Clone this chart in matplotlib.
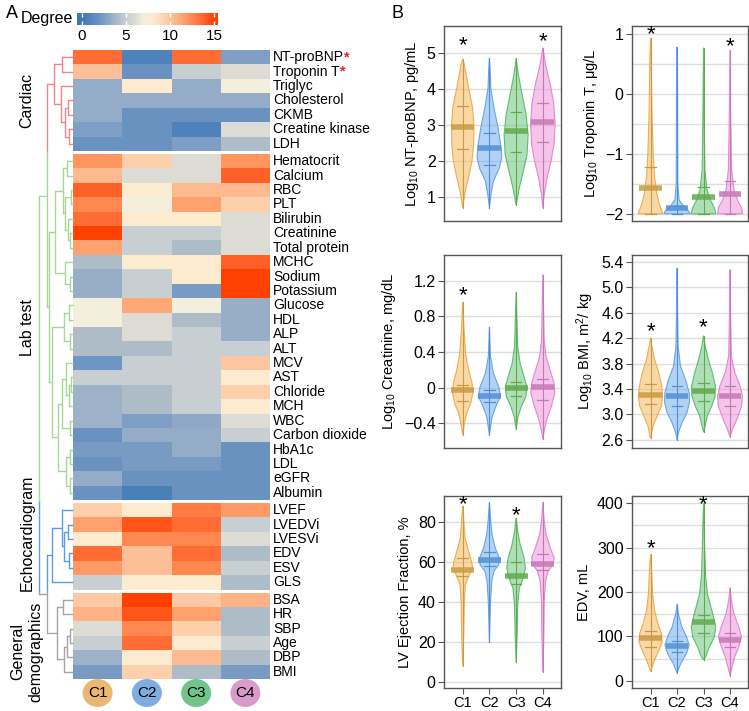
import numpy as np
import matplotlib
matplotlib.use('Agg')
import matplotlib.pyplot as plt
from matplotlib.colors import LinearSegmentedColormap
from matplotlib.patches import Ellipse, Polygon

plt.rcParams['font.family'] = ['Liberation Sans', 'DejaVu Sans']
plt.rcParams['mathtext.default'] = 'regular'

# ==========================================
# HEATMAP DATA (degree per cluster C1..C4)
# ==========================================
CLUSTERS = ['C1', 'C2', 'C3', 'C4']
GROUP_NAMES = ['Cardiac', 'Lab test', 'Echocardiogram', 'General\ndemographics']

cardiac_rows = ['NT-proBNP', 'Troponin T', 'Triglyc', 'Cholesterol', 'CKMB',
                'Creatine kinase', 'LDH']
cardiac_deg = [[13.5, 0.7, 13.5, 2.5],
               [10.3, 1.8, 5.0, 6.0],
               [3.2, 8.0, 3.2, 7.0],
               [3.2, 3.2, 3.2, 3.2],
               [3.2, 1.8, 1.8, 1.8],
               [2.5, 1.8, 0.7, 6.0],
               [1.8, 1.8, 2.5, 4.0]]

lab_rows = ['Hematocrit', 'Calcium', 'RBC', 'PLT', 'Bilirubin', 'Creatinine',
            'Total protein', 'MCHC', 'Sodium', 'Potassium', 'Glucose', 'HDL',
            'ALP', 'ALT', 'MCV', 'AST', 'Chloride', 'MCH', 'WBC',
            'Carbon dioxide', 'HbA1c', 'LDL', 'eGFR', 'Albumin']
lab_deg = [[12.0, 9.5, 6.0, 12.0],
           [10.5, 6.0, 6.0, 14.0],
           [14.0, 8.0, 10.5, 10.5],
           [12.5, 7.0, 11.5, 9.5],
           [13.5, 8.0, 8.0, 6.0],
           [15.0, 5.0, 5.0, 6.0],
           [11.5, 5.0, 4.0, 6.0],
           [4.0, 8.0, 8.0, 14.0],
           [3.3, 5.0, 8.0, 15.0],
           [3.3, 5.0, 2.3, 15.0],
           [7.0, 11.3, 7.0, 3.3],
           [7.0, 6.0, 4.0, 3.3],
           [4.0, 6.0, 5.0, 3.3],
           [4.0, 4.0, 5.0, 5.0],
           [2.0, 5.0, 5.0, 10.0],
           [5.0, 5.0, 5.0, 8.0],
           [3.5, 4.0, 5.0, 9.5],
           [3.5, 4.0, 5.0, 8.0],
           [3.5, 2.5, 3.0, 6.0],
           [1.8, 3.2, 3.2, 5.0],
           [2.3, 2.3, 3.2, 1.8],
           [1.8, 2.3, 2.3, 1.8],
           [3.2, 1.8, 1.8, 1.8],
           [1.8, 0.5, 1.8, 1.8]]

echo_rows = ['LVEF', 'LVEDVi', 'LVESVi', 'EDV', 'ESV', 'GLS']
echo_deg = [[9.5, 8.0, 13.0, 11.8],
            [11.5, 14.3, 13.5, 5.0],
            [8.0, 12.5, 12.5, 6.0],
            [13.5, 10.3, 13.5, 4.0],
            [11.8, 10.3, 12.5, 5.0],
            [5.0, 8.0, 8.0, 4.0]]

demo_rows = ['BSA', 'HR', 'SBP', 'Age', 'DBP', 'BMI']
demo_deg = [[9.8, 15.0, 9.8, 10.8],
            [10.8, 14.3, 11.5, 4.0],
            [6.0, 12.5, 9.5, 4.0],
            [5.0, 13.5, 8.0, 5.0],
            [3.5, 8.0, 10.5, 4.0],
            [2.3, 9.5, 4.0, 2.3]]

starred_rows = ['NT-proBNP', 'Troponin T']

# dendrogram: [merge height, left, right], leaves are global row indices
cardiac_tree = [19, [11, 0, 1], [12, 2, [8, [5, 3, 4], [3.7, 5, 6]]]]
lab_tree = [24,
            [18, [10.5, [6, 7, 8], [8, [2, 9, 10], [5, 11, [3.5, 12, 13]]]],
             [8, 14, [3.5, 15, 16]]],
            [21, [9, [4, 17, 18], [3, 19, 20]],
             [15.5, [11, [7, 21, [4, [2, 22, 23], 24]], [3, 25, 26]],
              [7, [3, 27, 28], [3, 29, 30]]]]]
echo_tree = [21, [11, 31, [8.7, [5.3, 32, 33], [3.7, 34, 35]]], 36]
demo_tree = [16.3, [9.7, 37, 38], [9, [6, [3, 39, 40], 41], 42]]
full_tree = [33.7, [26.3, cardiac_tree, lab_tree], [26.3, echo_tree, demo_tree]]

# ==========================================
# VIOLIN DATA: shape knots (y, half width), median, caps, stars
# ==========================================
ntprobnp_shape = [
    [(0.70, 0), (1.16, 0.10), (1.53, 0.22), (2.0, 0.35), (2.46, 0.41), (3.0, 0.42),
     (3.48, 0.37), (4.04, 0.22), (4.69, 0.06), (4.83, 0)],
    [(0.70, 0), (1.07, 0.06), (1.44, 0.15), (1.8, 0.37), (2.09, 0.46), (2.37, 0.44),
     (2.93, 0.32), (3.48, 0.17), (4.04, 0.05), (4.5, 0.03), (4.85, 0)],
    [(0.77, 0), (1.25, 0.12), (1.72, 0.27), (2.18, 0.41), (2.74, 0.45), (3.3, 0.37),
     (3.86, 0.22), (4.41, 0.08), (4.85, 0)],
    [(0.70, 0), (1.07, 0.05), (1.53, 0.16), (2.0, 0.31), (2.46, 0.42), (3.02, 0.46),
     (3.58, 0.41), (4.13, 0.28), (4.69, 0.10), (5.15, 0)]]
ntprobnp_med = [2.95, 2.35, 2.83, 3.07]
ntprobnp_lo = [2.33, 1.9, 2.25, 2.52]
ntprobnp_hi = [3.52, 2.77, 3.35, 3.6]
ntprobnp_stars = [(0, 5.27), (3, 5.37)]

troponin_shape = [
    [(-2.0, 0.47), (-1.93, 0.41), (-1.82, 0.32), (-1.65, 0.23), (-1.37, 0.15),
     (-0.98, 0.10), (-0.42, 0.06), (0.13, 0.04), (0.6, 0.025), (0.93, 0)],
    [(-2.0, 0.49), (-1.96, 0.45), (-1.88, 0.26), (-1.77, 0.08), (-1.5, 0.03),
     (0.0, 0.02), (0.78, 0)],
    [(-2.0, 0.47), (-1.9, 0.41), (-1.77, 0.26), (-1.6, 0.13), (-1.26, 0.05),
     (-0.5, 0.025), (0.77, 0)],
    [(-2.0, 0.47), (-1.9, 0.44), (-1.77, 0.28), (-1.6, 0.15), (-1.26, 0.06),
     (-0.5, 0.03), (0.73, 0)]]
troponin_med = [-1.57, -1.9, -1.72, -1.67]
troponin_lo = [-2.0, -2.0, -2.0, -2.0]
troponin_hi = [-1.22, -1.87, -1.55, -1.46]
troponin_stars = [(0, 1.02), (3, 0.82)]

creat_shape = [
    [(-0.53, 0), (-0.4, 0.07), (-0.29, 0.15), (-0.18, 0.30), (-0.06, 0.38), (0.05, 0.35),
     (0.2, 0.22), (0.385, 0.11), (0.65, 0.05), (0.96, 0)],
    [(-0.53, 0), (-0.33, 0.10), (-0.19, 0.27), (-0.1, 0.42), (0.01, 0.35), (0.16, 0.15),
     (0.35, 0.04), (0.68, 0)],
    [(-0.47, 0), (-0.33, 0.07), (-0.21, 0.20), (-0.1, 0.37), (0.01, 0.40), (0.12, 0.30),
     (0.27, 0.15), (0.46, 0.06), (1.07, 0)],
    [(-0.58, 0), (-0.47, 0.06), (-0.36, 0.15), (-0.21, 0.32), (-0.06, 0.45), (0.05, 0.42),
     (0.2, 0.27), (0.35, 0.12), (0.53, 0.05), (1.27, 0)]]
creat_med = [-0.03, -0.09, 0.0, 0.01]
creat_lo = [-0.15, -0.16, -0.1, -0.14]
creat_hi = [0.03, -0.03, 0.06, 0.1]
creat_stars = [(0, 1.06)]

bmi_shape = [
    [(2.62, 0), (2.82, 0.10), (2.98, 0.26), (3.13, 0.41), (3.29, 0.46), (3.45, 0.42),
     (3.66, 0.31), (3.87, 0.15), (4.08, 0.05), (4.2, 0)],
    [(2.6, 0), (2.72, 0.06), (2.87, 0.19), (3.03, 0.38), (3.19, 0.47), (3.34, 0.46),
     (3.55, 0.32), (3.76, 0.13), (4.08, 0.04), (4.6, 0.02), (5.3, 0)],
    [(2.72, 0), (2.82, 0.06), (2.98, 0.15), (3.13, 0.31), (3.29, 0.44), (3.45, 0.45),
     (3.66, 0.33), (3.87, 0.18), (4.08, 0.06), (4.24, 0)],
    [(2.65, 0), (2.77, 0.10), (2.92, 0.26), (3.13, 0.44), (3.29, 0.47), (3.45, 0.38),
     (3.66, 0.18), (3.92, 0.05), (4.6, 0.02), (5.28, 0)]]
bmi_med = [3.31, 3.29, 3.36, 3.29]
bmi_lo = [3.17, 3.13, 3.21, 3.13]
bmi_hi = [3.48, 3.45, 3.5, 3.45]
bmi_stars = [(0, 4.34), (2, 4.41)]

lvef_shape = [
    [(8, 0), (23.6, 0.04), (40.3, 0.06), (48.7, 0.10), (53.7, 0.25), (57, 0.37),
     (60.4, 0.33), (65.4, 0.22), (72, 0.09), (80.5, 0.04), (88, 0)],
    [(20, 0), (40, 0.04), (50.4, 0.09), (55.4, 0.17), (58.7, 0.35), (62, 0.37),
     (67, 0.22), (73.8, 0.10), (80.5, 0.05), (90, 0)],
    [(10, 0), (25, 0.04), (38.7, 0.06), (47, 0.12), (52, 0.27), (57, 0.35),
     (62, 0.30), (68.8, 0.15), (75.5, 0.06), (82, 0)],
    [(5, 0), (25, 0.04), (40, 0.05), (50.4, 0.10), (55.4, 0.20), (58.7, 0.37),
     (62.1, 0.42), (67.1, 0.28), (73.8, 0.12), (80.5, 0.05), (90, 0)]]
lvef_med = [56, 61, 53, 59]
lvef_lo = [53, 58, 49, 56]
lvef_hi = [62, 65, 60, 64]
lvef_stars = [(0, 90.0), (2, 84.5)]

edv_shape = [
    [(22, 0), (32, 0.06), (47, 0.15), (69, 0.32), (88, 0.44), (107, 0.41), (129, 0.28),
     (159, 0.15), (196, 0.08), (249, 0.04), (285, 0)],
    [(18, 0), (40, 0.15), (62, 0.36), (81, 0.46), (99, 0.36), (122, 0.18), (151, 0.05),
     (172, 0)],
    [(48, 0), (54, 0.08), (77, 0.23), (99, 0.41), (122, 0.46), (144, 0.38), (166, 0.28),
     (196, 0.15), (234, 0.08), (308, 0.04), (400, 0)],
    [(12, 0), (32, 0.08), (54, 0.18), (77, 0.33), (99, 0.44), (122, 0.33), (151, 0.15),
     (181, 0.05), (210, 0)]]
edv_med = [97, 78, 133, 93]
edv_lo = [76, 64, 108, 77]
edv_hi = [113, 90, 148, 108]
edv_stars = [(0, 302), (2, 402)]

# ==========================================
# STYLE
# ==========================================
HEAT_CMAP = LinearSegmentedColormap.from_list('degree', [
    (0 / 15, '#3d7ab5'), (2 / 15, '#6f95c3'), (3.3 / 15, '#98aec8'),
    (4 / 15, '#aebcc8'), (5 / 15, '#c8cfd2'), (6 / 15, '#dcdcd4'),
    (7 / 15, '#f3efdc'), (8 / 15, '#fdebd0'), (10 / 15, '#fdc6a0'),
    (12 / 15, '#ff9660'), (14 / 15, '#ff6028'), (1.0, '#ff4000')])
GROUP_COLORS = ['#f2848f', '#a6d895', '#5b9bea', '#a5a5a5']
CIRCLE_COLORS = ['#e9b872', '#7eaee0', '#72c58a', '#d89ccb']
FILL = ['#f5b95c', '#74aeea', '#6cc67e', '#ec94dc']
EDGE = ['#eea741', '#5d9fe4', '#52b866', '#e07fd0']
DARK = ['#c99a45', '#4f8fd8', '#62a94a', '#c777b6']

fig = plt.figure(figsize=(7.49, 7.11), dpi=100)

# ---------- panel A in pixel coordinates ----------
axL = fig.add_axes([0, 0, 380 / 749, 1])
axL.set_xlim(0, 380)
axL.set_ylim(711, 0)
axL.axis('off')

HM_LEFT, HM_RIGHT, HM_TOP = 73.0, 270.0, 50.0
ROW_H, GAP = 14.42, 3.0
col_edges = np.linspace(HM_LEFT, HM_RIGHT, len(CLUSTERS) + 1)
col_centers = 0.5 * (col_edges[:-1] + col_edges[1:])

groups = [(cardiac_rows, cardiac_deg), (lab_rows, lab_deg),
          (echo_rows, echo_deg), (demo_rows, demo_deg)]
row_centers, row_group, bounds = [], [], []
y0 = HM_TOP
for g, (names, vals) in enumerate(groups):
    ey = y0 + ROW_H * np.arange(len(names) + 1)
    axL.pcolormesh(col_edges, ey, np.array(vals), cmap=HEAT_CMAP, vmin=0, vmax=15)
    for i, name in enumerate(names):
        yc = 0.5 * (ey[i] + ey[i + 1])
        row_centers.append(yc)
        row_group.append(g)
        t = axL.text(HM_RIGHT + 3, yc, name, fontsize=10, va='center', ha='left')
        if name in starred_rows:
            axL.annotate('*', xy=(1, 0.5), xycoords=t, fontsize=10.5, fontweight='bold',
                         color='#e8202a', va='center', ha='left')
    y0 = ey[-1] + GAP
    if g < len(groups) - 1:
        bounds.append(ey[-1] + GAP / 2)

GROUP_LABEL_Y = [100, 327, 533, 652]
for g, name in enumerate(GROUP_NAMES):
    axL.text(27, GROUP_LABEL_Y[g], name, rotation=90, fontsize=11.5,
             ha='center', va='center', linespacing=1.3)


def region_of(y):
    return int(np.searchsorted(bounds, y))


def draw_tree(node):
    if isinstance(node, int):
        return HM_LEFT, row_centers[node], {row_group[node]}
    h, left, right = node
    xn = HM_LEFT - h
    kids = [draw_tree(left), draw_tree(right)]
    gs = kids[0][2] | kids[1][2]
    for xc, yc, gc in kids:
        c = GROUP_COLORS[next(iter(gc))] if len(gc) == 1 else GROUP_COLORS[region_of(yc)]
        axL.plot([xc, xn], [yc, yc], color=c, lw=1.0, solid_capstyle='butt')
    ya, yb = sorted([kids[0][1], kids[1][1]])
    if len(gs) == 1:
        axL.plot([xn, xn], [ya, yb], color=GROUP_COLORS[next(iter(gs))], lw=1.0)
    else:
        cuts = [ya] + [b for b in bounds if ya < b < yb] + [yb]
        for s, e in zip(cuts[:-1], cuts[1:]):
            axL.plot([xn, xn], [s, e], color=GROUP_COLORS[region_of(0.5 * (s + e))], lw=1.0)
    return xn, 0.5 * (kids[0][1] + kids[1][1]), gs


draw_tree(full_tree)

# cluster badges
for k, name in enumerate(CLUSTERS):
    axL.add_patch(Ellipse((col_centers[k], 693), 30, 28, color=CIRCLE_COLORS[k], lw=0))
    axL.text(col_centers[k], 693, name, fontsize=11, ha='center', va='center')

# colorbar
cax = fig.add_axes([77 / 749, 1 - 25 / 711, 141 / 749, 12 / 711])
grad = np.linspace(-0.57, 15.45, 256)[None, :]
cax.imshow(grad, aspect='auto', cmap=HEAT_CMAP, vmin=0, vmax=15,
           extent=(-0.57, 15.45, 0, 1))
cax.set_xlim(-0.57, 15.45)
cax.set_yticks([])
cax.set_xticks([0, 5, 10, 15])
cax.tick_params(axis='x', direction='in', colors='white', length=3, width=1,
                top=True, labelsize=11, labelcolor='black', pad=3)
for s in cax.spines.values():
    s.set_visible(False)
cax.text(-0.03, 0.5, 'Degree', transform=cax.transAxes, ha='right', va='center',
         fontsize=11.5)

fig.text(6 / 749, 1 - 13 / 711, 'A', fontsize=13, va='center')
fig.text(392 / 749, 1 - 13 / 711, 'B', fontsize=13, va='center')


# ---------- panel B: violins ----------
def violin_panel(rect, shapes, med, lo, hi, stars, ylim, yticks, yticklabels,
                 grid, ylabel, bottom_row):
    ax = fig.add_axes(rect)
    pos = np.arange(1, len(shapes) + 1)
    for y in grid:
        ax.axhline(y, color='#dedede', lw=1.0, zorder=0)
    for k, shape in enumerate(shapes):
        ys = np.array([p[0] for p in shape])
        ws = np.array([p[1] for p in shape])
        xs = np.concatenate([pos[k] + ws, (pos[k] - ws)[::-1]])
        yy = np.concatenate([ys, ys[::-1]])
        ax.add_patch(Polygon(np.column_stack([xs, yy]), closed=True, facecolor=FILL[k],
                             alpha=0.55, edgecolor='none', zorder=2))
        ax.add_patch(Polygon(np.column_stack([xs, yy]), closed=True, facecolor='none',
                             edgecolor=EDGE[k], lw=0.8, alpha=0.9, zorder=3))
        ax.plot([pos[k], pos[k]], [ys[0], ys[-1]], color=DARK[k], lw=0.8, zorder=4)
        for q in (lo[k], hi[k]):
            ax.plot([pos[k] - 0.2, pos[k] + 0.2], [q, q], color=DARK[k], lw=0.9, zorder=4)
        ax.plot([pos[k] - 0.43, pos[k] + 0.43], [med[k], med[k]], color=DARK[k],
                lw=4.0, alpha=0.85, solid_capstyle='butt', zorder=5)
    for k, ys in stars:
        ax.text(pos[k], ys, '*', fontsize=16, ha='center', va='center_baseline',
                zorder=6)
    ax.set_xlim(0.3, 4.68)
    ax.set_ylim(*ylim)
    ax.set_yticks(yticks)
    ax.set_yticklabels(yticklabels)
    ax.tick_params(axis='y', labelsize=11.5, length=4, color='#555555', pad=2)
    if bottom_row:
        ax.set_xticks(pos)
        ax.set_xticklabels(CLUSTERS)
        ax.tick_params(axis='x', labelsize=10.5, length=4, color='#555555', pad=2)
    else:
        ax.set_xticks([])
    for s in ax.spines.values():
        s.set_color('#555555')
        s.set_linewidth(1.0)
    ax.set_ylabel(ylabel, fontsize=10.5, labelpad=4)
    return ax


COL_L = [444 / 749, 632 / 749]
COL_W = [117 / 749, 116 / 749]
ROW_B = [490 / 711, 263 / 711, 23 / 711]
ROW_H_F = [195 / 711, 193 / 711, 192 / 711]

violin_panel([COL_L[0], ROW_B[0], COL_W[0], ROW_H_F[0]], ntprobnp_shape, ntprobnp_med,
             ntprobnp_lo, ntprobnp_hi, ntprobnp_stars, (0.33, 5.75), [1, 2, 3, 4, 5],
             ['1', '2', '3', '4', '5'], [1, 2, 3, 4, 5],
             r'Log$_{10}$ NT-proBNP, pg/mL', False)
violin_panel([COL_L[1], ROW_B[0], COL_W[1], ROW_H_F[0]], troponin_shape, troponin_med,
             troponin_lo, troponin_hi, troponin_stars, (-2.12, 1.13), [-2, -1, 0, 1],
             ['\u22122', '\u22121', '0', '1'], [-2, -1.5, -1, -0.5, 0, 0.5, 1],
             r'Log$_{10}$ Troponin T, μg/L', False)
violin_panel([COL_L[0], ROW_B[1], COL_W[0], ROW_H_F[1]], creat_shape, creat_med,
             creat_lo, creat_hi, creat_stars, (-0.68, 1.49), [-0.4, 0, 0.4, 0.8, 1.2],
             ['\u22120.4', '0', '0.4', '0.8', '1.2'], [-0.4, 0, 0.4, 0.8, 1.2],
             r'Log$_{10}$ Creatinine, mg/dL', False)
violin_panel([COL_L[1], ROW_B[1], COL_W[1], ROW_H_F[1]], bmi_shape, bmi_med,
             bmi_lo, bmi_hi, bmi_stars, (2.47, 5.51),
             [2.6, 3.0, 3.4, 3.8, 4.2, 4.6, 5.0, 5.4],
             ['2.6', '3.0', '3.4', '3.8', '4.2', '4.6', '5.0', '5.4'],
             [2.6, 3.0, 3.4, 3.8, 4.2, 4.6, 5.0, 5.4],
             r'Log$_{10}$ BMI, m$^{2}$/ kg', False)
violin_panel([COL_L[0], ROW_B[2], COL_W[0], ROW_H_F[2]], lvef_shape, lvef_med,
             lvef_lo, lvef_hi, lvef_stars, (-3, 93), [0, 20, 40, 60, 80],
             ['0', '20', '40', '60', '80'], [0, 20, 40, 60, 80],
             'LV Ejection Fraction, %', True)
violin_panel([COL_L[1], ROW_B[2], COL_W[1], ROW_H_F[2]], edv_shape, edv_med,
             edv_lo, edv_hi, edv_stars, (-16, 416), [0, 100, 200, 300, 400],
             ['0', '100', '200', '300', '400'], list(range(0, 401, 50)),
             'EDV, mL', True)

fig.savefig('out.png', dpi=100)
